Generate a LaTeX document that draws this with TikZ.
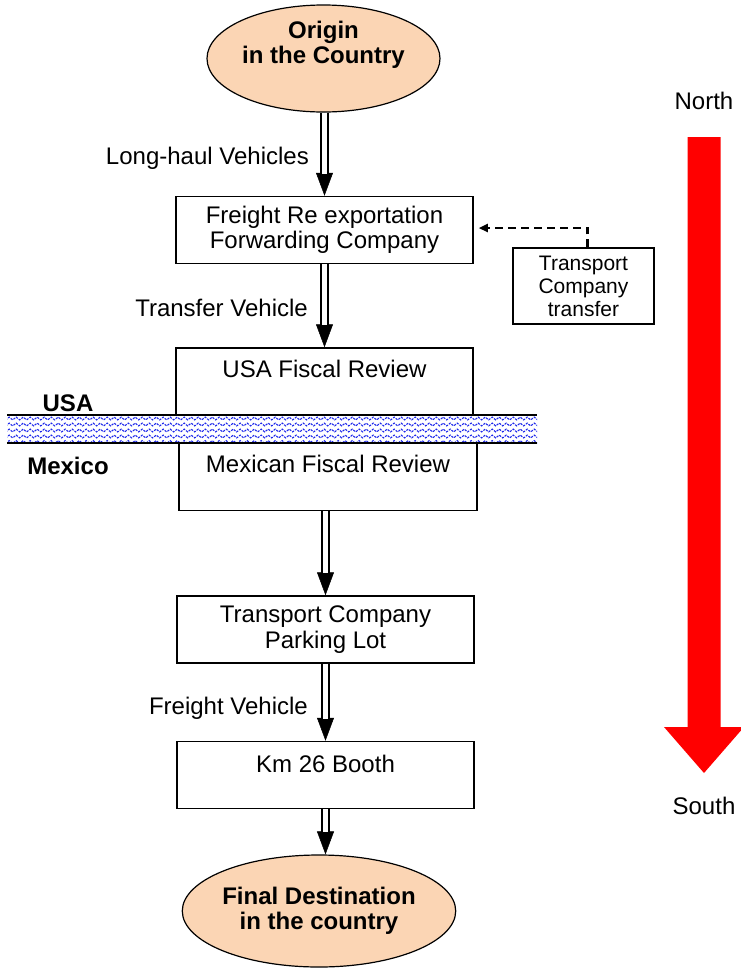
\documentclass[tikz,border=0pt]{standalone}
\usepackage{fontspec}
\setmainfont{Liberation Sans}
\usetikzlibrary{arrows.meta,calc,shapes.geometric,decorations.pathmorphing}
\definecolor{peach}{RGB}{251,213,180}
\definecolor{wavecol}{RGB}{30,40,235}

\begin{document}
\begin{tikzpicture}[x=1pt,y=-1pt,
  every node/.style={font=\fontsize{24}{25.5}\selectfont, align=center},
  endpoint/.style={ellipse, draw, line width=1.2pt, fill=peach, inner sep=0pt,
    font=\fontsize{24}{25.5}\selectfont\bfseries},
  stage/.style={draw, line width=1.5pt, minimum width=297pt, minimum height=67pt, inner sep=0pt},
  flow/.style={line width=2pt, double distance=4.5pt, shorten >=22pt,
    preaction={draw, shorten >=0pt, line width=0.5pt, -{Triangle[length=23pt,width=17pt]}}},
  side/.style={anchor=east, inner sep=0pt},
  border/.style={font=\fontsize{24}{25.5}\selectfont\bfseries},
  wave/.style={wavecol, line width=1.1pt, dash pattern=on 2.2pt off 1.2pt, decorate,
    decoration={snake, segment length=7pt, amplitude=1.4pt}}
]
\useasboundingbox (0,0) rectangle (741,970);

% end points
\node[endpoint, minimum width=233pt, minimum height=107pt,
  label={[yshift=13.5pt, font=\fontsize{24}{25.5}\selectfont\bfseries]center:Origin\\in the Country}]
  (origin) at (323.5,58.5) {};
\node[endpoint, minimum width=232pt, minimum height=112pt] (final) at (319,911)
  {Final Destination\\in the country};

% stages
\node[stage] (freight) at (324.5,230) {Freight Re exportation\\Forwarding Company};
\node[stage, minimum width=141pt, minimum height=76pt, line width=1.3pt,
  font=\fontsize{21}{23}\selectfont] (transfer) at (583.5,286) {Transport\\Company\\transfer};
\node[stage, label={[anchor=north, inner sep=13pt]north:USA Fiscal Review}]
  (usa) at (324.5,381.5) {};
\node[stage, minimum width=298pt, label={[anchor=north, inner sep=12pt]north:Mexican Fiscal Review}]
  (mex) at (328,477) {};
\node[stage] (parking) at (325.5,629.5) {Transport Company\\Parking Lot};
\node[stage, label={[anchor=north, inner sep=14pt]north:Km 26 Booth}]
  (booth) at (325.5,775) {};

% border strip
\begin{scope}
  \clip (7,415) rectangle (537,443);
  \fill[white] (7,415) rectangle (537,443);
  \foreach \yy in {418.5,424.5,430.5,436.5,442}
    \draw[wave] (0,\yy) -- (545,\yy);
\end{scope}
\draw[line width=1.5pt] (7,415) -- (537,415) (7,443) -- (537,443);
\node[border] (usalbl) at (68,403) {USA};
\node[border] (mexlbl) at (68,466) {Mexico};

% main flow
\draw[flow] (freight.north |- origin.south) -- (freight.north);
\draw[flow] (freight.south) -- (usa.north);
\draw[flow] (parking.north |- mex.south) -- (parking.north);
\draw[flow] (parking.south) -- (booth.north);
\draw[flow] (booth.south) -- (booth.south |- final.north);

\node[side] (lbl1) at (309,158) {Long-haul Vehicles};
\node[side] (lbl2) at (308,308) {Transfer Vehicle};
\node[side] (lbl3) at (308,708) {Freight Vehicle};

% side transfer
\draw[line width=2.2pt, dash pattern=on 8pt off 5pt, -{Triangle[length=9pt,width=8pt]},
  shorten >=5pt] ($(transfer.north)+(4,0)$) |- ($(freight.east)+(0,-2)$);

% compass
\node (northlbl) at (704,101) {North};
\node (southlbl) at (704,806) {South};
\fill[red] (687.5,137) -- (720.5,137) -- (720.5,727) -- (744,727) -- (704,773)
  -- (664,727) -- (687.5,727) -- cycle;
\end{tikzpicture}
\end{document}
